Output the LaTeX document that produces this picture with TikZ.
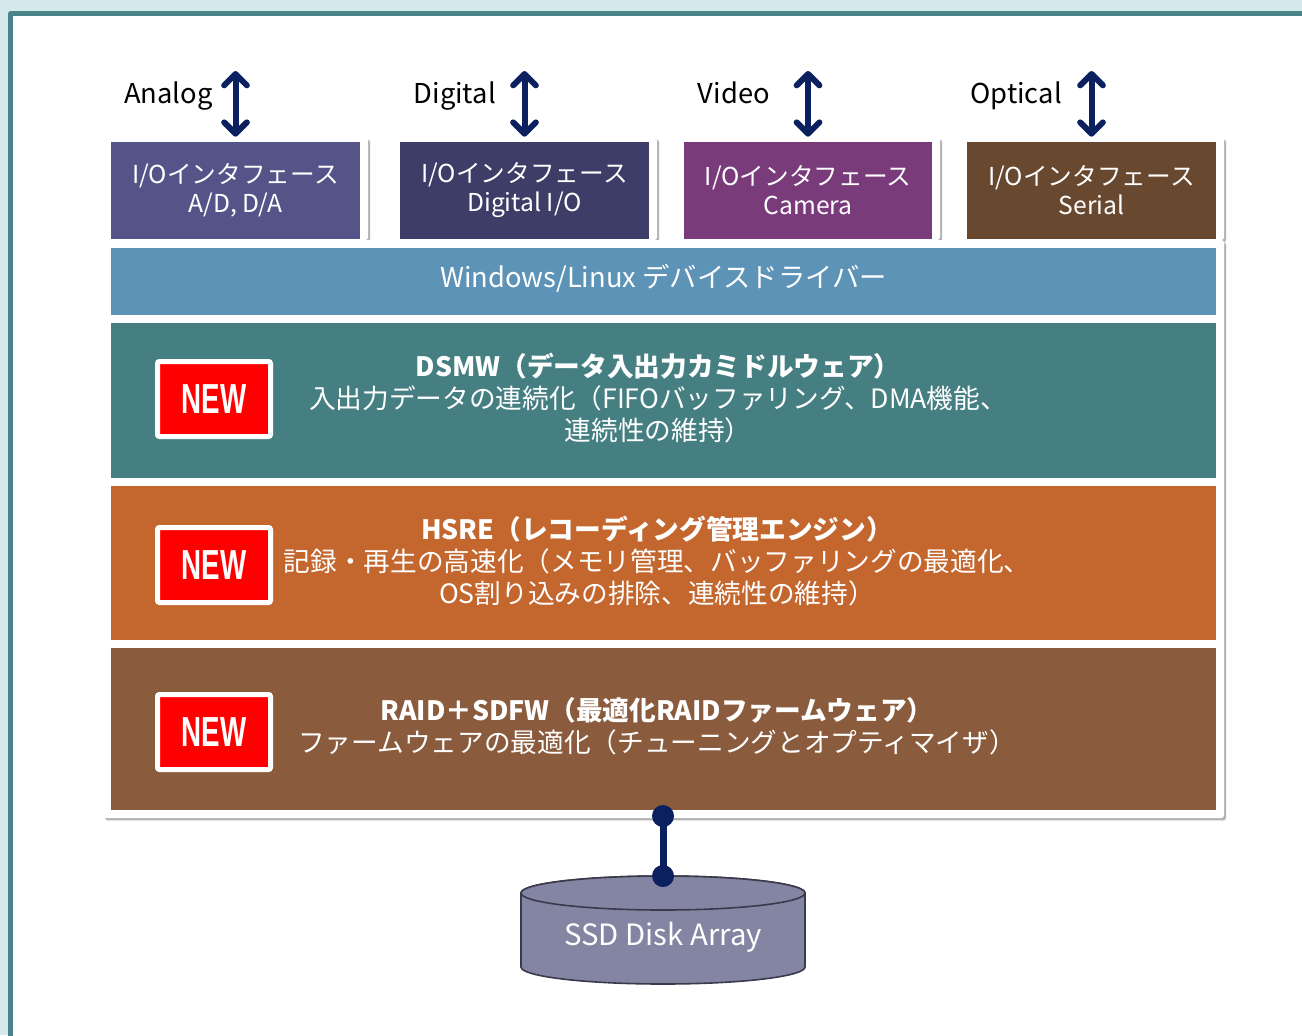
\documentclass[tikz,border=0pt]{standalone}
\usepackage{fontspec}
\setmainfont{Noto Sans CJK JP}
\newfontfamily\badgefont{Liberation Sans}
\usetikzlibrary{arrows.meta,shadows}
\definecolor{bgblue}{HTML}{D5E8EB}
\definecolor{frameteal}{HTML}{4A8488}
\definecolor{ioA}{HTML}{545489}
\definecolor{ioB}{HTML}{3D3D67}
\definecolor{ioC}{HTML}{7A3B7B}
\definecolor{ioD}{HTML}{694830}
\definecolor{winblue}{HTML}{5D93B7}
\definecolor{dsmwcol}{HTML}{467F82}
\definecolor{hsrecol}{HTML}{C4672E}
\definecolor{raidcol}{HTML}{8A5C3D}
\definecolor{navy}{HTML}{0B215F}
\definecolor{cylcol}{HTML}{8385A2}
\definecolor{cylline}{HTML}{3A3A4C}
\begin{document}
\begin{tikzpicture}[x=0.75pt,y=-0.75pt,
  card/.style={fill=white, rounded corners=2pt, inner sep=0pt,
    drop shadow={shadow xshift=1.5pt, shadow yshift=-1.8pt, fill=black, opacity=0.3}},
  layer/.style={inner sep=0pt, minimum width=1105*0.75pt},
  iobox/.style={inner sep=0pt, minimum width=249*0.75pt, minimum height=97*0.75pt,
    text=white, align=center, font=\fontsize{18.5}{21.75}\selectfont},
  lbl/.style={anchor=base east, inner sep=0pt, font=\fontsize{20.5}{24}\selectfont, text=black},
  ltext/.style={text=white, align=center, inner sep=0pt, font=\fontsize{20}{24}\selectfont},
  badge/.style={fill=red, draw=white, line width=5*0.75pt, rounded corners=1.5pt,
    minimum width=113*0.75pt, minimum height=75*0.75pt, inner sep=0pt,
    text=white, font=\badgefont\bfseries\fontsize{31.5}{31.5}\selectfont},
  dblarrow/.style={navy, line width=6*0.75pt, line cap=round,
    {Straight Barb[round,length=8.5pt,width=17pt]}-{Straight Barb[round,length=8.5pt,width=17pt]}},
  link/.style={navy, line width=7*0.75pt}
]
\useasboundingbox (0,0) rectangle (1302,1035);
% background and frame
\fill[bgblue] (0,0) rectangle (1302,1035);
\fill[frameteal, rounded corners=2pt] (8,11) rectangle (1320,1050);
\fill[white] (13,16) rectangle (1320,1050);

% I/O cards
\node[card, minimum width=265*0.75pt, minimum height=103*0.75pt] (cardA) at (235.5,188.5) {};
\node[card, minimum width=265*0.75pt, minimum height=103*0.75pt] (cardB) at (524.5,188.5) {};
\node[card, minimum width=264*0.75pt, minimum height=103*0.75pt] (cardC) at (808,188.5) {};
\node[card, minimum width=265*0.75pt, minimum height=103*0.75pt] (cardD) at (1091.5,188.5) {};

% main panel card
\node[card, minimum width=1121*0.75pt, minimum height=578*0.75pt] (panel) at (663.5,529) {};

% I/O boxes
\node[iobox, fill=ioA] (ioa) at (235.5,190.5) {I/Oインタフェース\\A/D, D/A};
\node[iobox, fill=ioB] (iob) at (524.5,190.5) {I/Oインタフェース\\Digital I/O};
\node[iobox, fill=ioC, minimum width=248*0.75pt] (ioc) at (808,190.5) {I/Oインタフェース\\Camera};
\node[iobox, fill=ioD] (iod) at (1091.5,190.5) {I/Oインタフェース\\Serial};

% layers
\node[layer, fill=winblue, minimum height=67*0.75pt] (win) at (663.5,281.5) {};
\node[ltext, font=\fontsize{20.5}{24}\selectfont] (wintxt) at (663.5,278) {Windows/Linux デバイスドライバー};

\node[layer, fill=dsmwcol, minimum height=155*0.75pt] (dsmw) at (663.5,400.5) {};
\node[ltext] (dsmwtxt) at (658,398) {\textbf{DSMW（データ入出力カミドルウェア）}\\入出力データの連続化（FIFOバッファリング、DMA機能、\\連続性の維持）};

\node[layer, fill=hsrecol, minimum height=154*0.75pt] (hsre) at (663.5,563) {};
\node[ltext] (hsretxt) at (657,561) {\textbf{HSRE（レコーディング管理エンジン）}\\記録・再生の高速化（メモリ管理、バッファリングの最適化、\\OS割り込みの排除、連続性の維持）};

\node[layer, fill=raidcol, minimum height=162*0.75pt] (raid) at (663.5,729) {};
\node[ltext] (raidtxt) at (657,726.5) {\textbf{RAID＋SDFW（最適化RAIDファームウェア）}\\ファームウェアの最適化（チューニングとオプティマイザ）};

% NEW badges
\node[badge] (newA) at (214,399) {\scalebox{0.66}[1]{NEW}};
\node[badge] (newB) at (214,565) {\scalebox{0.66}[1]{NEW}};
\node[badge] (newC) at (214,732) {\scalebox{0.66}[1]{NEW}};

% top labels and arrows
\node[lbl] (labA) at (213,103) {Analog};
\node[lbl] (labB) at (496,103) {Digital};
\node[lbl] (labC) at (770,103) {Video};
\node[lbl] (labD) at (1062,103) {Optical};
\coordinate (topA) at (235.5,71);
\coordinate (topB) at (524.5,71);
\coordinate (topC) at (808,71);
\coordinate (topD) at (1091.5,71);
\draw[dblarrow] (topA) -- (cardA.north);
\draw[dblarrow] (topB) -- (cardB.north);
\draw[dblarrow] (topC) -- (cardC.north);
\draw[dblarrow] (topD) -- (cardD.north);

% SSD cylinder
\path[fill=cylcol, draw=cylline, line width=1.2pt]
  (521,893) -- (521,967) arc[start angle=180, end angle=0, x radius=142, y radius=17]
  -- (805,893) arc[start angle=0, end angle=-180, x radius=142, y radius=17] -- cycle;
\draw[fill=cylcol, draw=cylline, line width=1.2pt] (663,893) ellipse [x radius=142, y radius=17];
\node[text=white, inner sep=0pt, font=\fontsize{22}{24}\selectfont] (ssd) at (663,937) {SSD Disk Array};
\coordinate (ssdtop) at (663,876);
\coordinate (raidbot) at (663,816);
\draw[link] (raidbot) -- (ssdtop);
\fill[navy] (raidbot) circle[radius=11];
\fill[navy] (ssdtop) circle[radius=11];
\end{tikzpicture}
\end{document}
